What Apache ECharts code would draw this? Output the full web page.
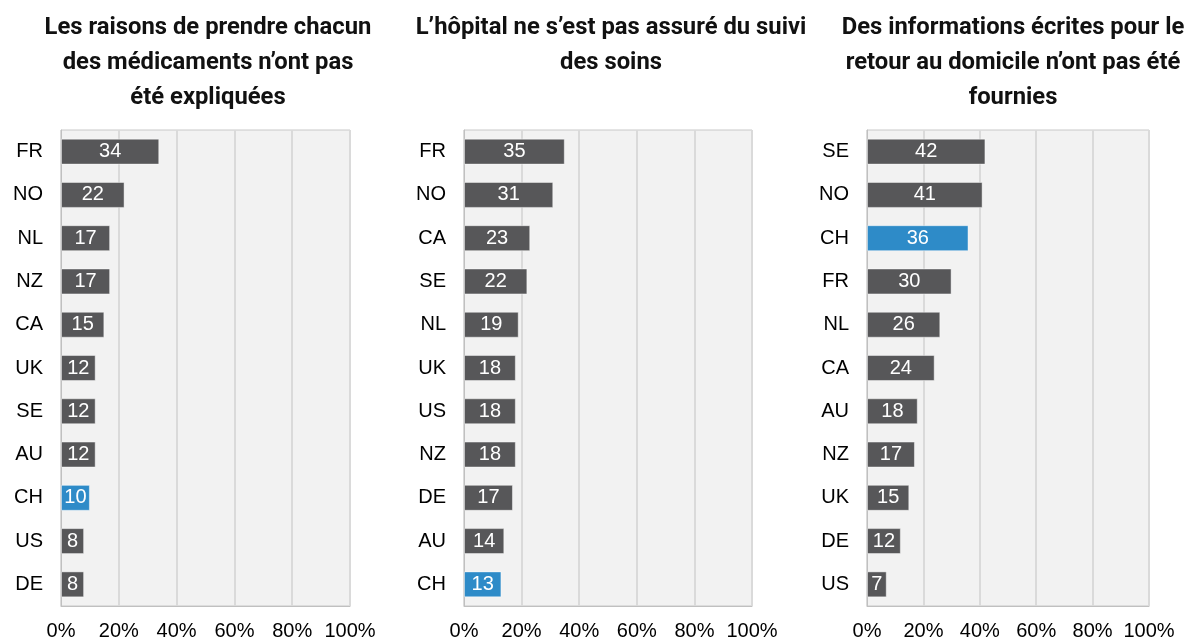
<!DOCTYPE html>
<html>
<head>
<meta charset="utf-8">
<script src="https://cdn.jsdelivr.net/npm/echarts@6/dist/echarts.min.js"></script>
<style>
  html, body { margin: 0; padding: 0; background: #ffffff; }
  #chart { width: 1187px; height: 641px; }
</style>
</head>
<body>
<div id="chart"></div>
<script>
// Panel titles
const titles = [
  "Les raisons de prendre chacun\ndes médicaments n’ont pas\nété expliquées",
  "L’hôpital ne s’est pas assuré du suivi\ndes soins",
  "Des informations écrites pour le\nretour au domicile n’ont pas été\nfournies"
];

// Panel 1: medication reasons not explained (%)
const countries1 = ["FR", "NO", "NL", "NZ", "CA", "UK", "SE", "AU", "CH", "US", "DE"];
const values1    = [34, 22, 17, 17, 15, 12, 12, 12, 10, 8, 8];

// Panel 2: hospital did not ensure follow-up care (%)
const countries2 = ["FR", "NO", "CA", "SE", "NL", "UK", "US", "NZ", "DE", "AU", "CH"];
const values2    = [35, 31, 23, 22, 19, 18, 18, 18, 17, 14, 13];

// Panel 3: no written information for the return home (%)
const countries3 = ["SE", "NO", "CH", "FR", "NL", "CA", "AU", "NZ", "UK", "DE", "US"];
const values3    = [42, 41, 36, 30, 26, 24, 18, 17, 15, 12, 7];

// Axis ticks (percent)
const xTicks = [0, 20, 40, 60, 80, 100];

const highlightCountry = "CH";
const baseColor = "#575759";
const highlightColor = "#2e8bc8";

const panels = [
  { cats: countries1, vals: values1, left: 61,  width: 289, height: 477, center: 203 },
  { cats: countries2, vals: values2, left: 464, width: 288, height: 478, center: 606 },
  { cats: countries3, vals: values3, left: 867, width: 282, height: 477, center: 1008 }
];

const labelFont = "'Liberation Sans', Arial, sans-serif";

const option = {
  backgroundColor: "#ffffff",
  animation: false,
  title: panels.map((p, i) => ({
    text: titles[i],
    left: p.center,
    top: 6,
    textAlign: "center",
    textStyle: {
      fontFamily: "Roboto, sans-serif",
      fontWeight: "bold",
      fontSize: 23.8,
      lineHeight: 35,
      color: "#111111"
    }
  })),
  grid: panels.map(p => ({
    left: p.left,
    top: 130,
    width: p.width,
    height: p.height,
    show: true,
    backgroundColor: "#f2f2f2",
    borderColor: "#c8c8c8",
    borderWidth: 1
  })),
  xAxis: panels.map((p, i) => ({
    type: "value",
    gridIndex: i,
    min: xTicks[0],
    max: xTicks[xTicks.length - 1],
    interval: xTicks[1] - xTicks[0],
    axisLine: { show: true, lineStyle: { color: "#c0c0c0", width: 1 } },
    axisTick: { show: false },
    splitLine: { show: true, lineStyle: { color: "#dadada", width: 2 } },
    axisLabel: {
      formatter: "{value}%",
      color: "#000000",
      fontSize: 20,
      fontFamily: labelFont,
      margin: 15
    }
  })),
  yAxis: panels.map((p, i) => ({
    type: "category",
    gridIndex: i,
    data: p.cats,
    inverse: true,
    axisLine: { show: true, lineStyle: { color: "#c0c0c0", width: 1 } },
    axisTick: { show: false },
    axisLabel: {
      color: "#000000",
      fontSize: 20,
      fontFamily: labelFont,
      margin: 18
    }
  })),
  series: panels.map((p, i) => ({
    type: "bar",
    xAxisIndex: i,
    yAxisIndex: i,
    barWidth: "60%",
    data: p.vals.map((v, k) => ({
      value: v,
      itemStyle: {
        color: p.cats[k] === highlightCountry ? highlightColor : baseColor
      }
    })),
    itemStyle: {
      borderColor: "rgba(255,255,255,0.45)",
      borderWidth: 1
    },
    label: {
      show: true,
      position: "inside",
      color: "#ffffff",
      fontSize: 20,
      fontFamily: labelFont
    }
  }))
};

const chart = echarts.init(document.getElementById("chart"), null, { renderer: "canvas" });
chart.setOption(option);
</script>
</body>
</html>
